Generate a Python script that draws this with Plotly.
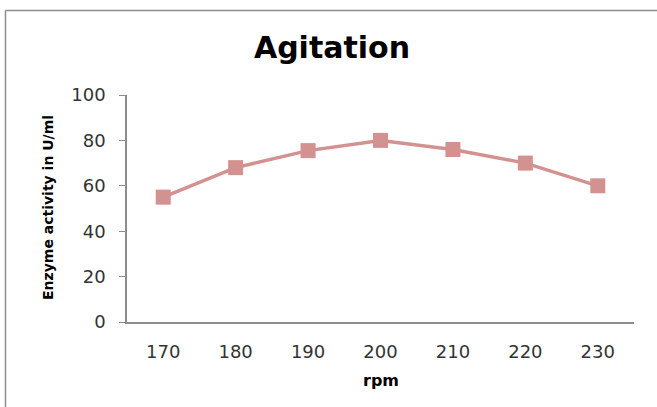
import plotly.graph_objects as go

rpm = ["170", "180", "190", "200", "210", "220", "230"]
activity = [55, 68, 75.5, 80, 76, 70, 60]
y_ticks = [0, 20, 40, 60, 80, 100]

W, H = 657, 407
ML, MR, MT, MB = 127, 23, 95, 85
PW, PH = W - ML - MR, H - MT - MB

def px(x):
    return (x - ML) / PW

def py(y):
    return (H - MB - y) / PH

line_color = "#D39190"
tick_font = "DejaVu Sans, Verdana, sans-serif"

fig = go.Figure()
fig.add_trace(go.Scatter(
    x=rpm, y=activity, mode="lines+markers",
    line=dict(color=line_color, width=3.5),
    marker=dict(symbol="square", size=15, color=line_color),
    showlegend=False,
))

fig.update_layout(
    width=W, height=H,
    margin=dict(l=ML, r=MR, t=MT, b=MB),
    paper_bgcolor="white", plot_bgcolor="white",
    font=dict(family=tick_font, color="#333333"),
    title=dict(text="<b>Agitation</b>", xref="container", x=332 / W, xanchor="center",
               yref="container", y=1 - 47 / H, yanchor="middle",
               font=dict(size=30, color="#000000", family=tick_font)),
    xaxis=dict(
        type="category", range=[-0.5, 6.5],
        showline=True, linecolor="#8c8c8c", linewidth=1.5,
        ticks="", showgrid=False, zeroline=False,
        tickfont=dict(size=18, color="#333333"),
        ticklabelstandoff=13,
    ),
    yaxis=dict(
        range=[0, 100], tickvals=y_ticks,
        showline=True, linecolor="#8c8c8c", linewidth=1.5,
        ticks="outside", ticklen=6, tickcolor="#8c8c8c",
        showgrid=False, zeroline=False,
        tickfont=dict(size=18, color="#333333"),
        ticklabelstandoff=10,
    ),
    annotations=[
        dict(text="<b>rpm</b>", x=px(381), y=py(380), xref="paper", yref="paper",
             showarrow=False, xanchor="center", yanchor="middle",
             font=dict(size=16, color="#000000", family=tick_font)),
        dict(text="<b>Enzyme activity in U/ml</b>", x=px(48), y=py(208),
             xref="paper", yref="paper", textangle=-90,
             showarrow=False, xanchor="center", yanchor="middle",
             font=dict(size=14, color="#000000", family=tick_font)),
    ],
    shapes=[
        dict(type="line", xref="paper", yref="paper",
             x0=px(5.5), x1=px(660), y0=py(10.5), y1=py(10.5),
             line=dict(color="#8c8c8c", width=1.5)),
        dict(type="line", xref="paper", yref="paper",
             x0=px(5.5), x1=px(5.5), y0=py(10.5), y1=py(410),
             line=dict(color="#8c8c8c", width=1.5)),
    ],
)

fig.write_html("out.html", config={"displayModeBar": False},
               post_script="document.body.style.margin='0px';")
